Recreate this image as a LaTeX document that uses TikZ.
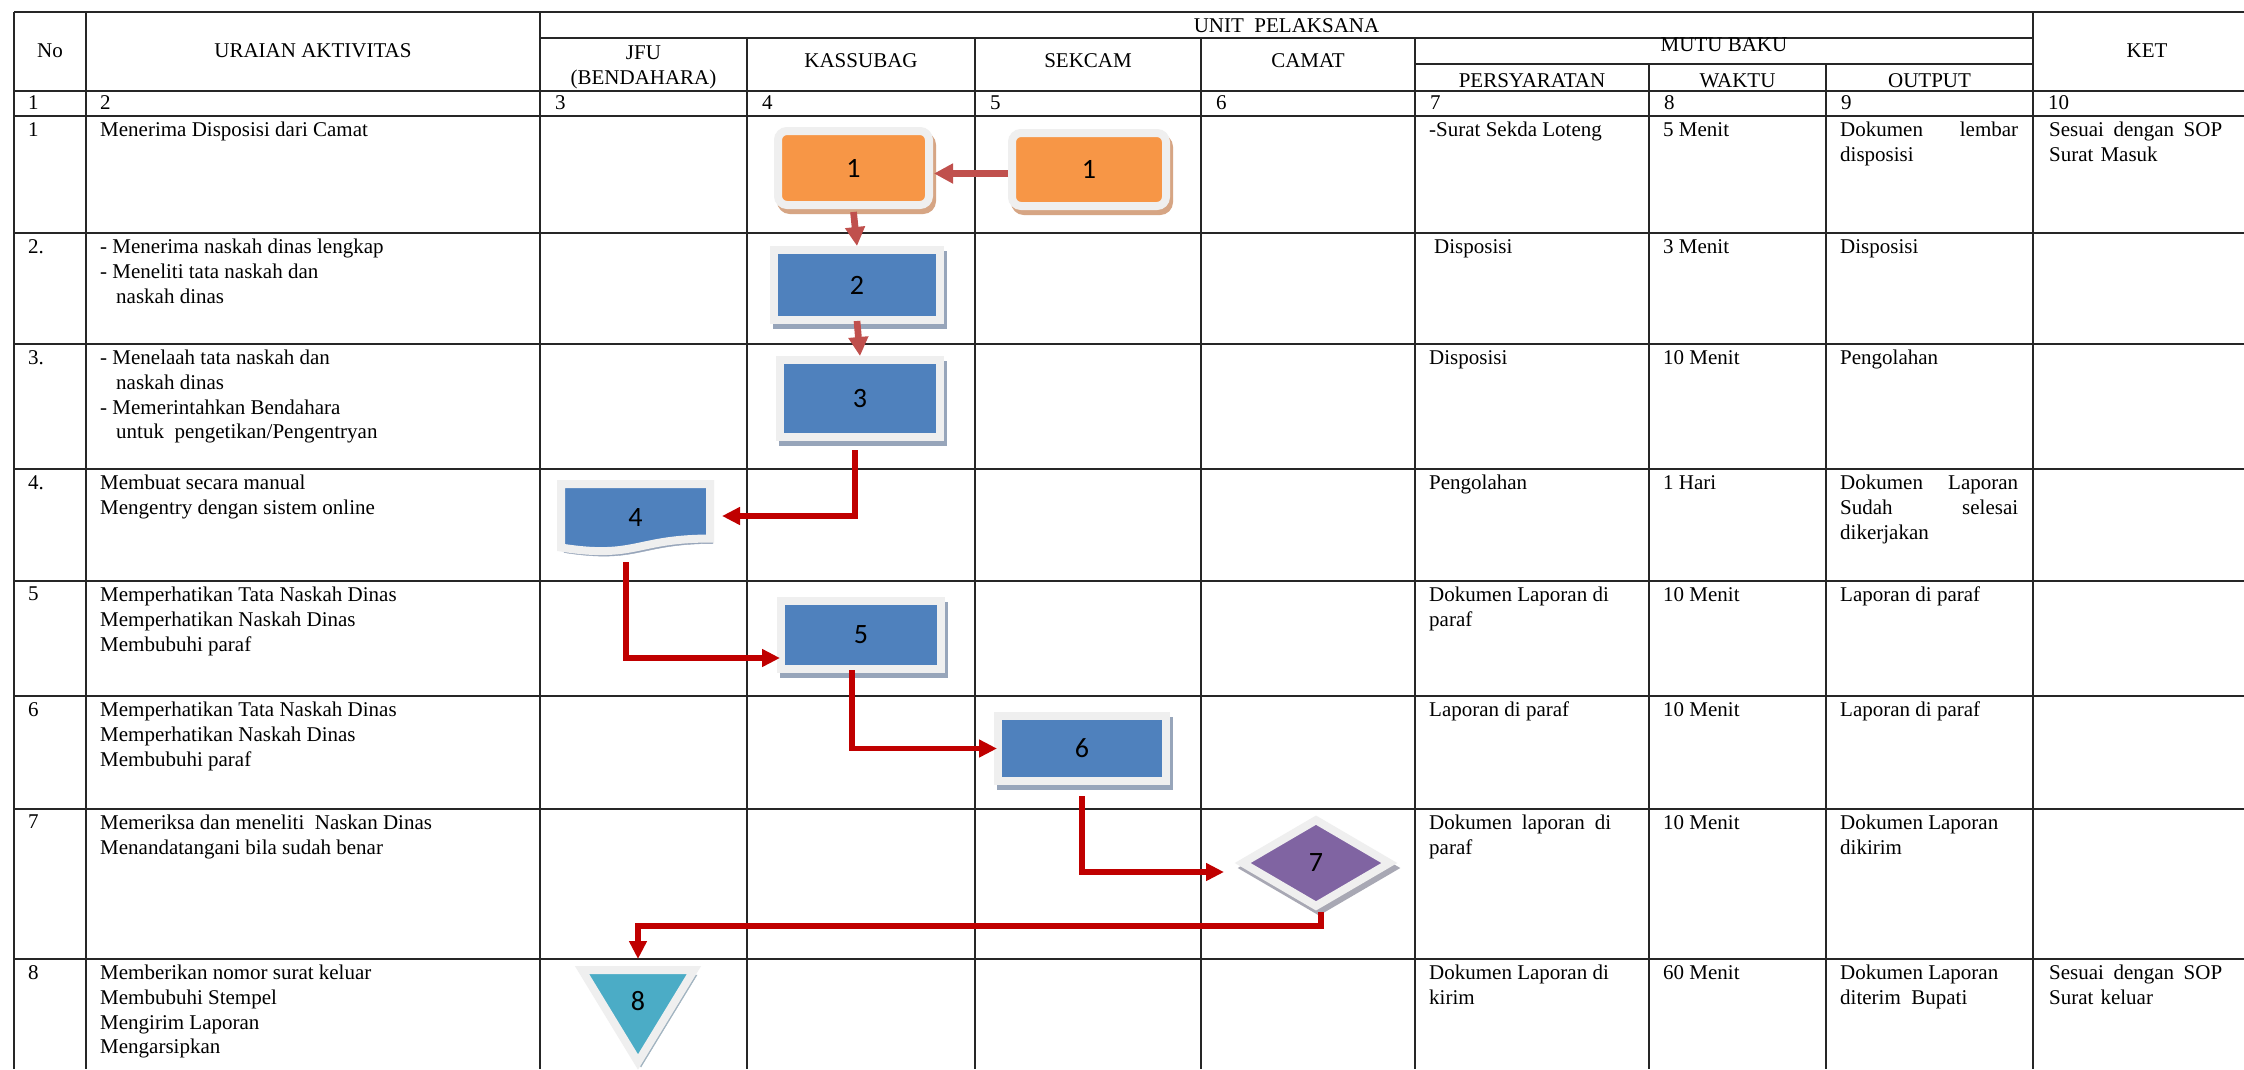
\documentclass[tikz,border=0pt]{standalone}
\usepackage{fontspec}
\setmainfont{Liberation Serif}
\newfontfamily\shapefont{Carlito}
\usetikzlibrary{arrows.meta,shapes.geometric,calc,backgrounds}

\definecolor{boxorange}{HTML}{F79646}
\definecolor{shorange}{HTML}{D6A584}
\definecolor{boxblue}{HTML}{4F81BD}
\definecolor{shblue}{HTML}{97A5BA}
\definecolor{boxpurple}{HTML}{8064A2}
\definecolor{boxteal}{HTML}{4BACC6}
\definecolor{shgray}{HTML}{A8A8B4}
\definecolor{shteal}{HTML}{9FB2BF}
\definecolor{rimgray}{HTML}{EFEFEF}
\definecolor{flowred}{HTML}{C0504D}
\definecolor{darkred}{HTML}{C00000}

\newcommand{\cellfont}{\fontsize{21}{24.7}\selectfont}
\newcommand{\numfont}{\shapefont\fontsize{28}{30}\selectfont}

\tikzset{
  tabline/.style={line width=2pt, black!85},
  cell/.style={anchor=north west, inner sep=0pt, align=left, font=\cellfont},
  head/.style={anchor=base, inner sep=0pt, font=\cellfont},
  rim/.style={draw=rimgray, line width=8pt,
    preaction={fill=#1, draw=#1, transform canvas={shift={(3pt,-5pt)}}}},
  orangebox/.style={rectangle, rounded corners=9pt, fill=boxorange, rim=shorange, inner sep=0pt, font=\numfont},
  bluebox/.style={rectangle, fill=boxblue, rim=shblue, inner sep=0pt, font=\numfont},
  arrA/.style={flowred, line width=6.7pt, -{Triangle[length=19pt,width=19pt]}},
  arrB/.style={darkred, line width=5.6pt, -{Triangle[length=18pt,width=17pt]}}
}

\begin{document}
\begin{tikzpicture}[x=1pt,y=-1pt]
  \useasboundingbox (0,0) rectangle (2244,1069);
  \begin{scope}[on background layer]
    \fill[white] (0,0) rectangle (2244,1069);
  \end{scope}

  % table grid
  \draw[tabline] (14,12) -- (2244,12);
  \draw[tabline] (540,38) -- (2033,38);
  \draw[tabline] (1415,64) -- (2033,64);
  \foreach \y in {90.5,116,233,344,469,581,696,809,959}
    \draw[tabline] (14,\y) -- (2244,\y);
  \foreach \x in {14,86,540,2033}
    \draw[tabline] (\x,12) -- (\x,1069);
  \foreach \x in {747,975,1201,1415}
    \draw[tabline] (\x,38) -- (\x,1069);
  \foreach \x in {1649,1826}
    \draw[tabline] (\x,64) -- (\x,1069);

  % header
  \node[head] (hno) at (50,57) {No};
  \node[head] (hur) at (313,57) {URAIAN AKTIVITAS};
  \node[head] (hunit) at (1286.5,32) {UNIT\ \ PELAKSANA};
  \node[head, anchor=north, align=center] (hjfu) at (643.5,46) {JFU\\(BENDAHARA)};
  \node[head] (hkas) at (861,67) {KASSUBAG};
  \node[head] (hsek) at (1088,67) {SEKCAM};
  \node[head] (hcam) at (1308,67) {CAMAT};
  \node[head] (hmutu) at (1724,51) {MUTU BAKU};
  \node[head] (hpers) at (1532,87) {PERSYARATAN};
  \node[head] (hwak) at (1737.5,87) {WAKTU};
  \node[head] (hout) at (1929.5,87) {OUTPUT};
  \node[head] (hket) at (2147,57) {KET};

  % column numbers
  \foreach \x/\t in {28/1,100/2,555/3,762/4,990/5,1216/6,1430/7,1664/8,1841/9,2048/10}
    \node[head, anchor=base west] (col\t) at (\x,109.5) {\t};

  % No and uraian
  \foreach \y/\t [count=\i] in {122/1,239/2.,350/3.,475/4.,587/5,702/6,815/7,965/8}
    \node[cell] (no\i) at (28,\y) {\t};
  \node[cell] (ur1) at (100,122) {Menerima Disposisi dari Camat};
  \node[cell] (ur2) at (100,239) {- Menerima naskah dinas lengkap\\- Meneliti tata naskah dan\\\hspace*{16pt}naskah dinas};
  \node[cell] (ur3) at (100,350) {- Menelaah tata naskah dan\\\hspace*{16pt}naskah dinas\\- Memerintahkan Bendahara\\\hspace*{16pt}untuk\ \ pengetikan/Pengentryan};
  \node[cell] (ur4) at (100,475) {Membuat secara manual\\Mengentry dengan sistem online};
  \node[cell] (ur5) at (100,587) {Memperhatikan Tata Naskah Dinas\\Memperhatikan Naskah Dinas\\Membubuhi paraf};
  \node[cell] (ur6) at (100,702) {Memperhatikan Tata Naskah Dinas\\Memperhatikan Naskah Dinas\\Membubuhi paraf};
  \node[cell] (ur7) at (100,815) {Memeriksa dan meneliti\ \ Naskan Dinas\\Menandatangani bila sudah benar};
  \node[cell] (ur8) at (100,965) {Memberikan nomor surat keluar\\Membubuhi Stempel\\Mengirim Laporan\\Mengarsipkan};

  % persyaratan
  \node[cell] (ps1) at (1429,122) {-Surat Sekda Loteng};
  \node[cell] (ps2) at (1429,239) {\hspace*{5pt}Disposisi};
  \node[cell] (ps3) at (1429,350) {Disposisi};
  \node[cell] (ps4) at (1429,475) {Pengolahan};
  \node[cell] (ps5) at (1429,587) {Dokumen Laporan di\\paraf};
  \node[cell] (ps6) at (1429,702) {Laporan di paraf};
  \node[cell, text width=182pt] (ps7) at (1429,815) {Dokumen\hfill laporan\hfill di\\paraf};
  \node[cell] (ps8) at (1429,965) {Dokumen Laporan di\\kirim};

  % waktu
  \foreach \y/\t [count=\i] in {122/5 Menit,239/3 Menit,350/10 Menit,475/1 Hari,587/10 Menit,702/10 Menit,815/10 Menit,965/60 Menit}
    \node[cell] (wk\i) at (1663,\y) {\t};

  % output
  \node[cell, text width=178pt] (op1) at (1840,122) {Dokumen\hfill lembar\\disposisi};
  \node[cell] (op2) at (1840,239) {Disposisi};
  \node[cell] (op3) at (1840,350) {Pengolahan};
  \node[cell, text width=178pt] (op4) at (1840,475) {Dokumen\hfill Laporan\\Sudah\hfill selesai\\dikerjakan};
  \node[cell] (op5) at (1840,587) {Laporan di paraf};
  \node[cell] (op6) at (1840,702) {Laporan di paraf};
  \node[cell] (op7) at (1840,815) {Dokumen Laporan\\dikirim};
  \node[cell] (op8) at (1840,965) {Dokumen Laporan\\diterim\ \ Bupati};

  % ket
  \node[cell, text width=173pt] (kt1) at (2049,122) {Sesuai\hfill dengan\hfill SOP\\Surat Masuk};
  \node[cell, text width=173pt] (kt8) at (2049,965) {Sesuai\hfill dengan\hfill SOP\\Surat keluar};

  % flow shapes
  \node[orangebox, minimum width=151pt, minimum height=74pt] (kas1) at (853.5,168) {1};
  \node[orangebox, minimum width=154pt, minimum height=73pt] (sek1) at (1089,169.5) {1};
  \node[bluebox, minimum width=166pt, minimum height=70pt] (proc2) at (857,285) {2};
  \node[bluebox, minimum width=160pt, minimum height=77pt] (proc3) at (860,398.5) {3};
  \node[minimum width=149pt, minimum height=68pt, inner sep=0pt, outer sep=0pt, font=\numfont] (doc4) at (635.5,518) {4};
  \node[bluebox, minimum width=160pt, minimum height=68pt] (proc5) at (861,635) {5};
  \node[bluebox, minimum width=168pt, minimum height=65pt] (proc6) at (1082,748.5) {6};
  \node[diamond, fill=boxpurple, rim=shgray, minimum width=150pt, minimum height=89pt, inner sep=0pt, font=\numfont] (dec7) at (1316,863) {7};
  \node[inner sep=0pt, font=\numfont] (tri8) at (638,1001) {8};

  % document and triangle outlines
  \begin{scope}[on background layer]
    \draw[rim=shblue, fill=boxblue] (doc4.north west) -- (doc4.north east)
      -- ($(doc4.north east)!0.802!(doc4.south east)$)
      .. controls ($(doc4.north)!0.802!(doc4.south)$) and ($(doc4.north)!1.107!(doc4.south)$)
      .. ($(doc4.north west)!0.934!(doc4.south west)$) -- cycle;
    \draw[rim=shteal, fill=boxteal] ($(tri8)+(-56,-31)$) -- ($(tri8)+(56,-31)$) -- ($(tri8)+(0,61)$) -- cycle;
  \end{scope}

  % connectors
  \draw[arrA] ($(sek1.west)+(0,4)$) -- ($(kas1.east)+(1,5.5)$);
  \draw[arrA] ($(kas1.south)+(0,3)$) -- (proc2.north);
  \draw[arrA] ($(proc2.south)+(0,-3)$) -- (proc3.north);
  \draw[arrB] ($(proc3.south)+(-5,9)$) |- ($(doc4.east)+(12,-2)$);
  \draw[arrB] ($(doc4.south)+(-9.5,10)$) |- ($(proc5.west)+(3,23)$);
  \draw[arrB] ($(proc5.south)+(-9,-3)$) |- ($(proc6.west)+(3,0)$);
  \draw[arrB] ($(proc6.south)+(0,11)$) |- ($(dec7)+(-92,9)$);
  \draw[arrB] ($(dec7)+(5,49)$) -- ++(0,14) -| ($(tri8)+(0,-42)$);
\end{tikzpicture}
\end{document}
